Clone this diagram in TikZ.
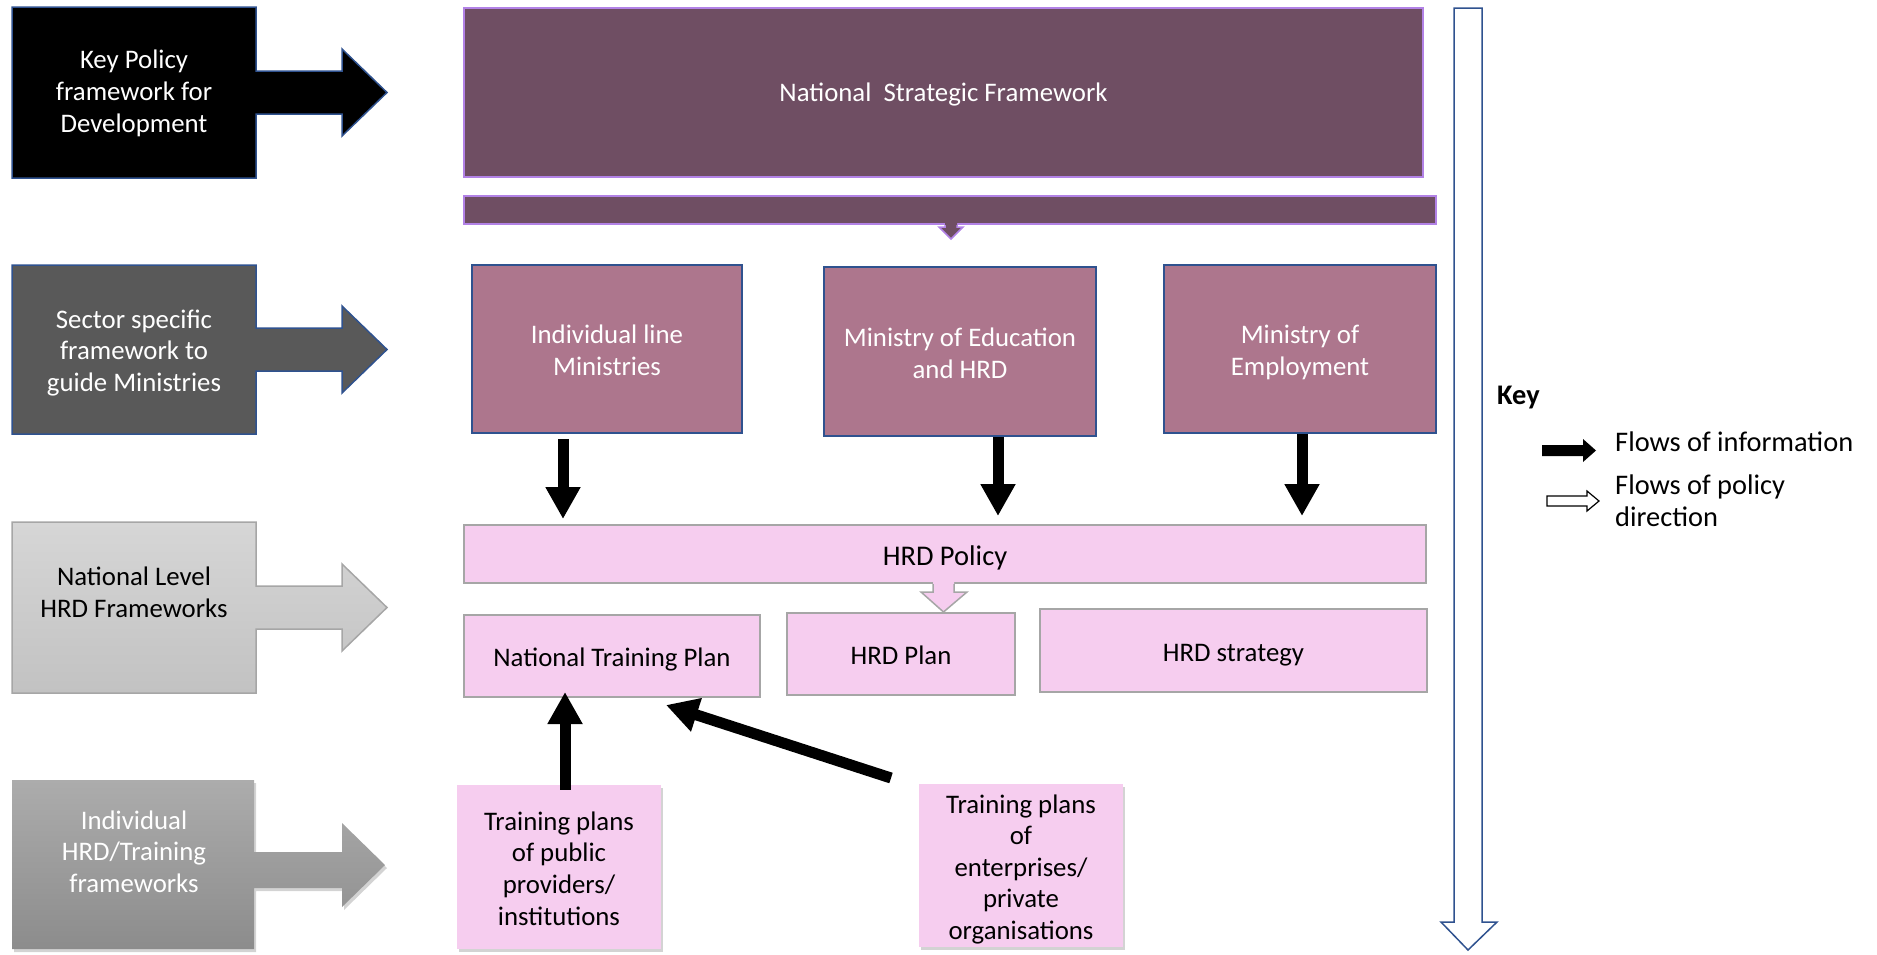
\documentclass[tikz,border=0pt]{standalone}
\usepackage{fontspec}
\setmainfont{Carlito}
\usetikzlibrary{arrows.meta,shadows}
\definecolor{mauve}{RGB}{111,78,99}
\definecolor{lav}{RGB}{178,130,230}
\definecolor{minis}{RGB}{173,118,141}
\definecolor{bluel}{RGB}{47,82,143}
\definecolor{pinkf}{RGB}{246,205,239}
\definecolor{grayl}{RGB}{166,166,166}
\definecolor{dgray}{RGB}{89,89,89}
\definecolor{lg1}{RGB}{214,214,214}
\definecolor{lg2}{RGB}{194,194,194}
\definecolor{mg1}{RGB}{172,172,172}
\definecolor{mg2}{RGB}{140,140,140}
\newcommand{\topstrut}{\rule{0pt}{1em}}
\newcommand{\botstrut}{\rule[-0.2em]{0pt}{0.2em}}
\begin{document}
\begin{tikzpicture}[x=1pt,y=-1pt,
  txt/.style={font=\fontsize{26.8}{31.6}\selectfont, align=center, inner sep=0pt,
    execute at begin node=\topstrut, execute at end node=\botstrut},
  legtxt/.style={font=\fontsize{28.4}{32}\selectfont, align=left, inner sep=0pt, anchor=west},
  barbox/.style={draw=lav, fill=mauve, line width=2pt, inner sep=0pt},
  mbox/.style={txt, draw=bluel, fill=minis, line width=1.5pt, text=white},
  pbox/.style={txt, draw=grayl, fill=pinkf, line width=2pt, text=black},
  tbox/.style={txt, fill=pinkf, text=black, drop shadow={opacity=0.35, shadow xshift=2pt, shadow yshift=-3pt}},
  info/.style={draw=black, line width=11pt, -{Triangle[length=32pt,width=33pt]}}
]
\useasboundingbox (0,0) rectangle (1877,954);

% ---- left level shapes ----
\path[draw=bluel, fill=black, line width=1.5pt] (12,7) -- (256,7) -- (256,71) -- (342,71) -- (342,49) -- (387,92.5) -- (342,136) -- (342,114) -- (256,114) -- (256,178) -- (12,178) -- cycle;
\node[txt, text=white] (lv1) at (134,89.7) {\topstrut Key Policy\\framework for\\Development};

\path[draw=bluel, fill=dgray, line width=1.5pt] (12,265) -- (256,265) -- (256,328) -- (342,328) -- (342,306) -- (387,349.5) -- (342,393) -- (342,371) -- (256,371) -- (256,434) -- (12,434) -- cycle;
\node[txt, text=white] (lv2) at (134,349) {\topstrut Sector specific\\framework to\\guide Ministries};

\path[draw=grayl, top color=lg1, bottom color=lg2, line width=1.5pt] (12,522) -- (256,522) -- (256,586) -- (342,586) -- (342,564) -- (387,607.5) -- (342,651) -- (342,629) -- (256,629) -- (256,693) -- (12,693) -- cycle;
\node[txt, text=black] (lv3) at (134,591) {\topstrut National Level\\HRD Frameworks};

\path[top color=mg1, bottom color=mg2, drop shadow={opacity=0.35, shadow xshift=2pt, shadow yshift=-3pt}] (12,780) -- (254,780) -- (254,852) -- (342,852) -- (342,823) -- (385,865) -- (342,907) -- (342,888) -- (254,888) -- (254,949) -- (12,949) -- cycle;
\node[txt, text=white] (lv4) at (134,850) {\topstrut Individual\\HRD/Training\\frameworks};

% ---- national strategic framework ----
\node[barbox, minimum width=959pt, minimum height=169pt] (nsf) at (943.5,92.5) {};
\node[txt, text=white] (nsft) at ([yshift=2pt]nsf.center) {National\ \ Strategic Framework};
\node[barbox, minimum width=972pt, minimum height=28pt] (bar) at (950,210) {};
\fill[mauve] (945,223) -- (945,227) -- (939,227) -- (951,239) -- (963,227) -- (957,227) -- (957,223) -- cycle;
\draw[lav, line width=1.5pt, line join=miter] (945,225) -- (945,227) -- (939,227) -- (951,239) -- (963,227) -- (957,227) -- (957,225);

% ---- ministries ----
\node[mbox, minimum width=270pt, minimum height=168pt] (m1) at (607,349) {\topstrut Individual line\\Ministries};
\node[mbox, minimum width=272pt, minimum height=169pt] (m2) at (960,351.5) {\topstrut Ministry of Education\\and HRD};
\node[mbox, minimum width=272pt, minimum height=168pt] (m3) at (1300,349) {\topstrut Ministry of\\Employment};

% ---- HRD level ----
\node[pbox, minimum width=962pt, minimum height=58pt, font=\fontsize{28.5}{32}\selectfont] (hrdp) at (945,554) {HRD Policy};
\node[pbox, minimum width=296pt, minimum height=82pt] (ntp) at (612,656) {National Training Plan};
\node[pbox, minimum width=228pt, minimum height=82pt] (plan) at (901,654) {HRD Plan};
\node[pbox, minimum width=387pt, minimum height=83pt] (strat) at (1233.5,650.5) {HRD strategy};
\fill[pinkf] (933,582) -- (933,592) -- (921,592) -- (943.5,612) -- (967,592) -- (954,592) -- (954,582) -- cycle;
\draw[grayl, line width=1.5pt, line join=miter] (933,584) -- (933,592) -- (921,592) -- (943.5,612) -- (967,592) -- (954,592) -- (954,584);

% ---- training plans ----
\node[tbox, minimum width=204pt, minimum height=164pt] (pub) at (559,867) {\topstrut Training plans\\of public\\providers/\\institutions};
\node[tbox, minimum width=204pt, minimum height=163pt] (priv) at (1021,865.5) {\topstrut Training plans\\of\\enterprises/\\private\\organisations};

% ---- information flows ----
\coordinate (xa) at (563,0);
\coordinate (xb) at (998,0);
\coordinate (xc) at (1302,0);
\coordinate (xd) at (565,0);
\draw[info, shorten <=5pt, shorten >=5pt] (m1.south -| xa) -- (hrdp.north -| xa);
\draw[info, shorten >=8pt] (m2.south -| xb) -- (hrdp.north -| xb);
\draw[info, shorten >=8pt] (m3.south -| xc) -- (hrdp.north -| xc);
\draw[info, shorten <=-5pt, shorten >=-6pt] (pub.north -| xd) -- (ntp.south -| xd);
\coordinate (d1) at (891,778);
\coordinate (d2) at (666,705);
\draw[info] (d1) -- (d2);

% ---- policy direction big arrow ----
\draw[bluel, line width=1.5pt, fill=white, line join=miter] (1454,8) -- (1482,8) -- (1482,922) -- (1497,922) -- (1468,950) -- (1441,922) -- (1454,922) -- cycle;

% ---- key ----
\node[legtxt, font=\bfseries\fontsize{28.4}{32}\selectfont] (key) at (1497,398) {Key};
\fill[black] (1542,445) -- (1583,445) -- (1583,439) -- (1596,450.5) -- (1583,462) -- (1583,456) -- (1542,456) -- cycle;
\draw[black, line width=1.2pt, fill=white, line join=miter] (1547,496) -- (1587,496) -- (1587,491) -- (1599,501) -- (1587,511) -- (1587,506) -- (1547,506) -- cycle;
\node[legtxt] (l1) at (1615,442) {Flows of information};
\node[legtxt] (l2) at (1615,501) {Flows of policy\\direction};
\end{tikzpicture}
\end{document}
